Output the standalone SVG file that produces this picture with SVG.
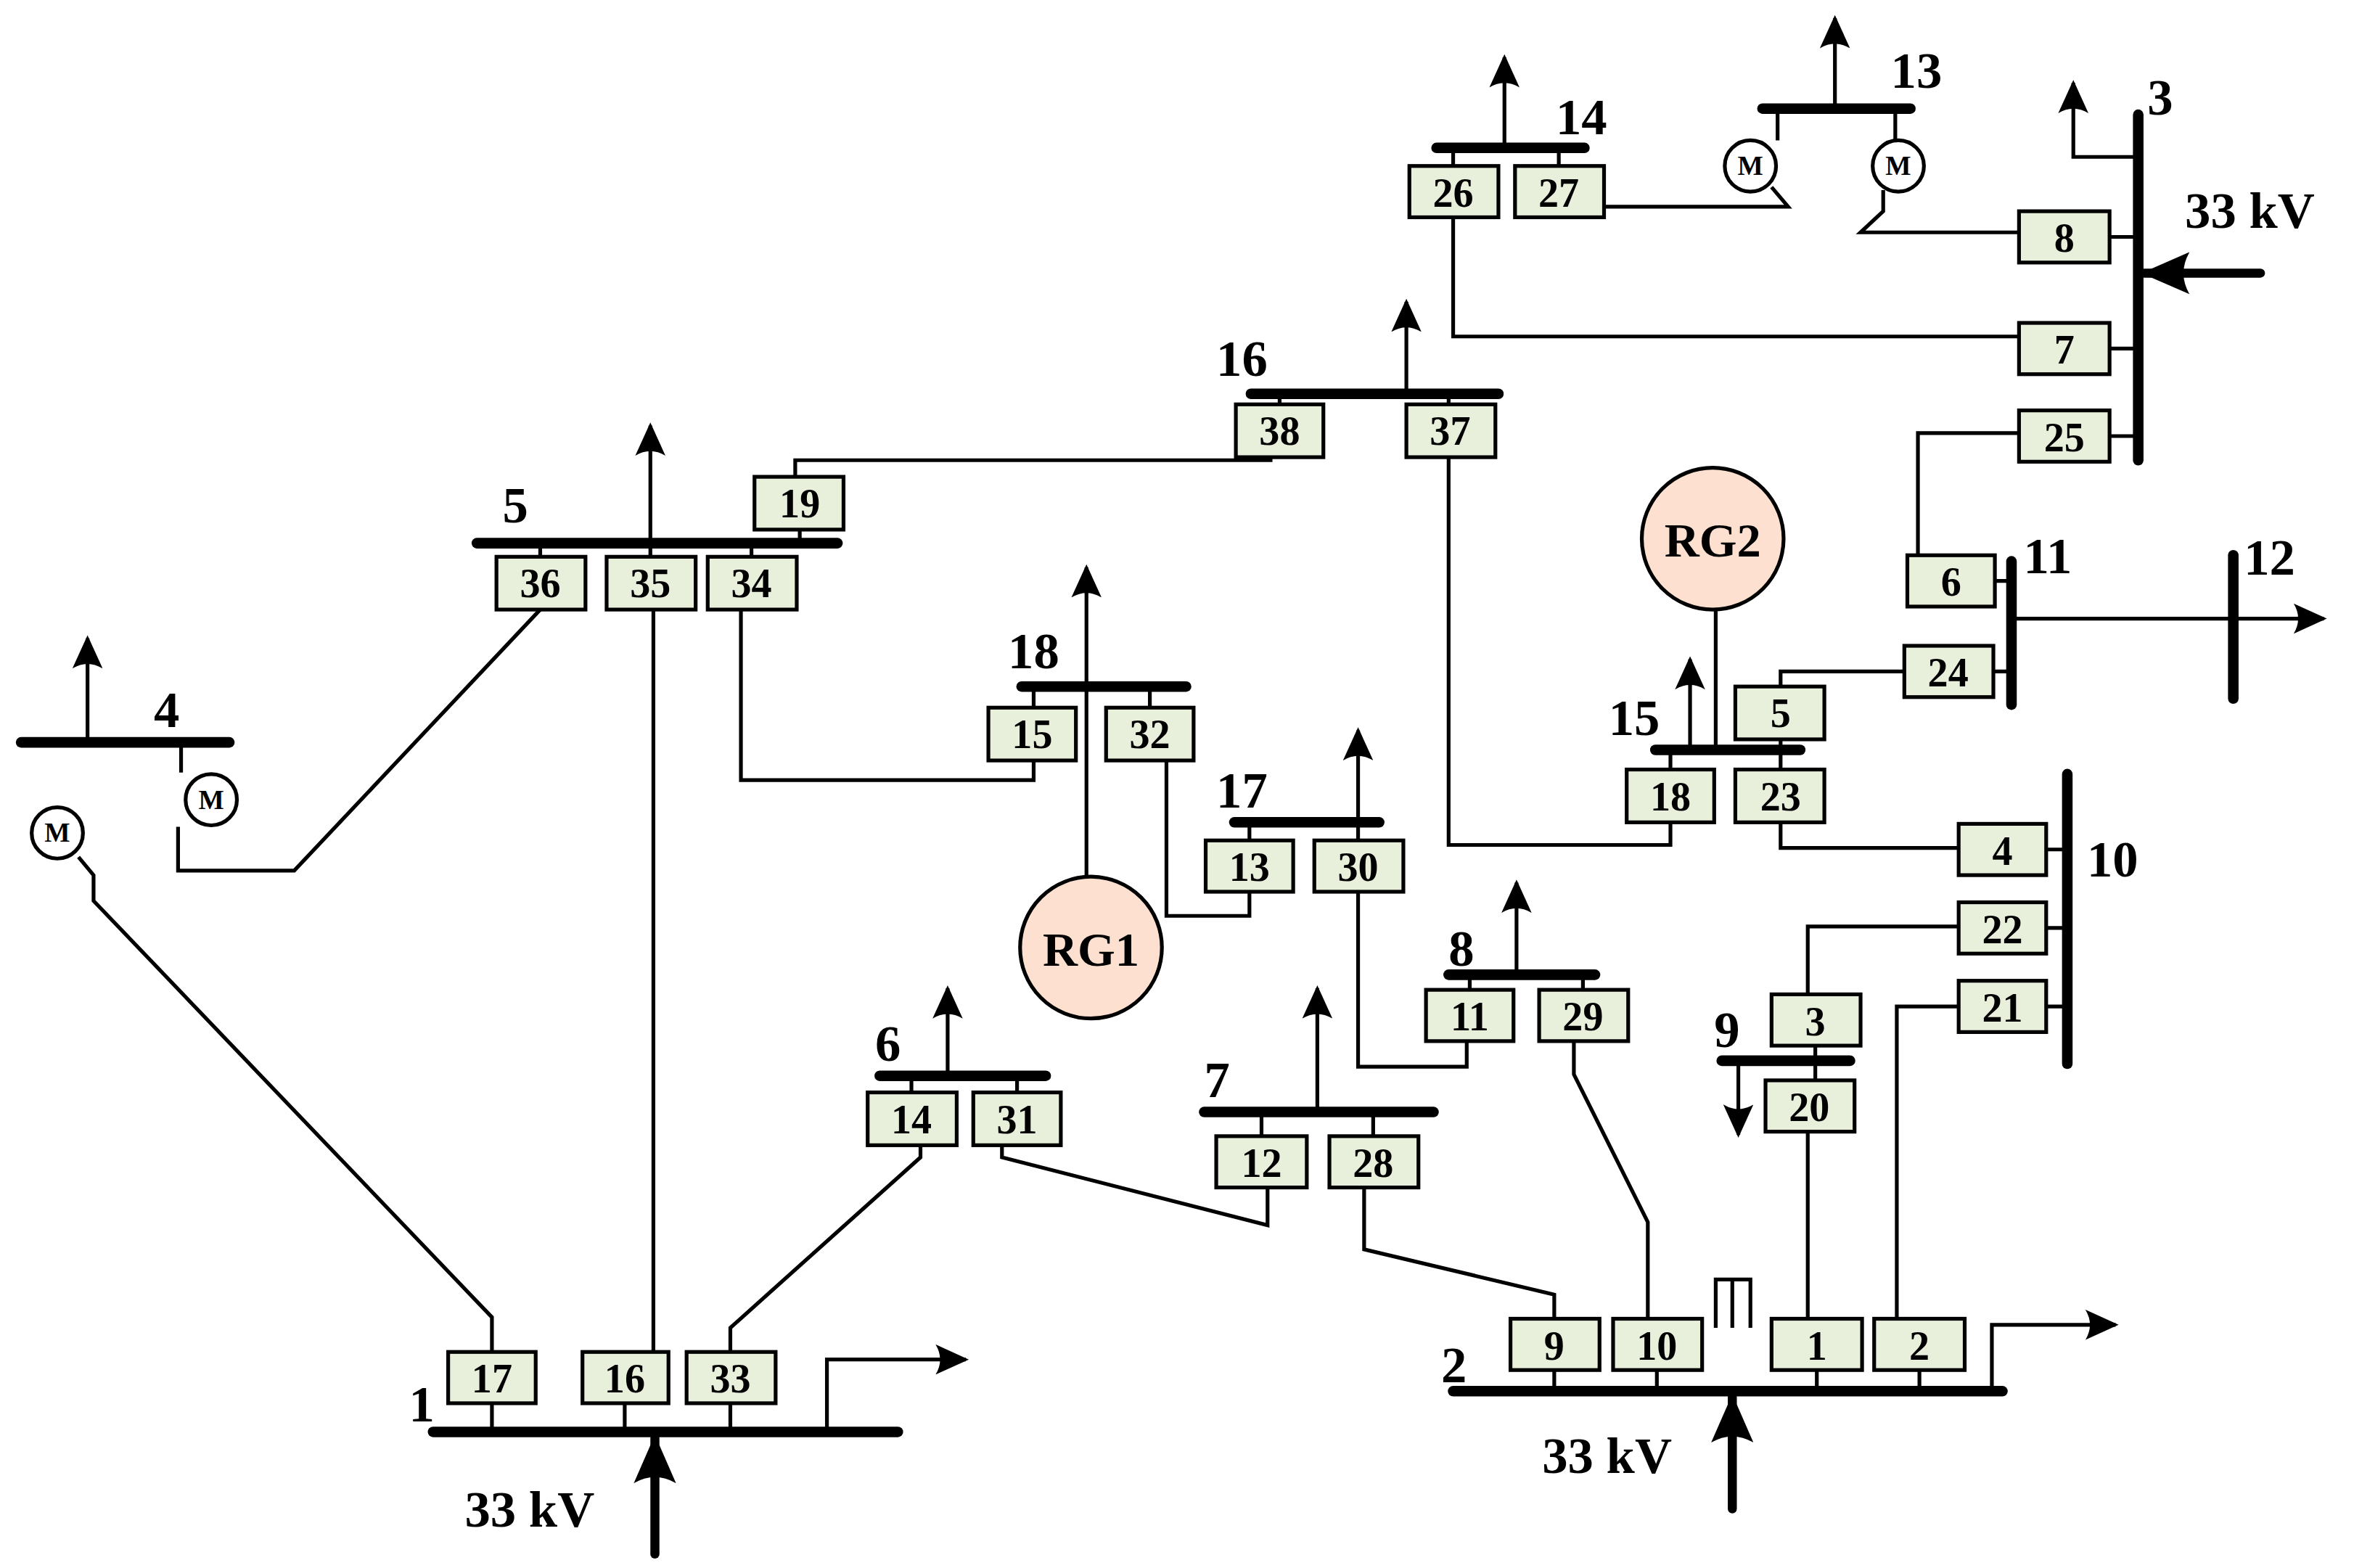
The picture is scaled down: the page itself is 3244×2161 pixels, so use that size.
<svg xmlns="http://www.w3.org/2000/svg" width="3244" height="2161" viewBox="0 0 3244 2161">
<defs>
<marker id="ah" markerUnits="userSpaceOnUse" markerWidth="24" markerHeight="20" refX="20" refY="10" orient="auto"><path d="M0,0 L22,10 L0,20 Q6,10 0,0 Z" fill="#000"/></marker>
<marker id="ahb" markerUnits="userSpaceOnUse" markerWidth="34" markerHeight="28" refX="30" refY="14" orient="auto"><path d="M0,0 L32,14 L0,28 Q8,14 0,0 Z" fill="#000"/></marker>
</defs>
<style>
.bus{stroke:#000;stroke-width:7;stroke-linecap:round;fill:none}
.ln{stroke:#000;stroke-width:2.5;fill:none}
.ld{stroke:#000;stroke-width:2.5;fill:none;marker-end:url(#ah)}
.src{stroke:#000;stroke-width:6;fill:none;stroke-linecap:round;marker-end:url(#ahb)}
.bx{fill:#e8f0dc;stroke:#000;stroke-width:2.5}
.bt{font-family:"Liberation Serif",serif;font-weight:bold;font-size:27px;text-anchor:middle}
.lb{font-family:"Liberation Serif",serif;font-weight:bold;font-size:34px}
.m{fill:#fff;stroke:#000;stroke-width:2.5}
.mt{font-family:"Liberation Serif",serif;font-weight:bold;font-size:18px;text-anchor:middle}
.rg{fill:#fde0d0;stroke:#000;stroke-width:2.5}
.rt{font-family:"Liberation Serif",serif;font-weight:bold;font-size:32px;text-anchor:middle}
</style>
<rect width="3244" height="2161" fill="#fff"/>
<g transform="scale(2.0795)">
<g id="connectors">
<path class="ln" d="M326,896 V873 L62,597 V580 L52,568"/>
<path class="ln" d="M433,896 V404"/>
<path class="ln" d="M484,896 V880 L610,767 V759"/>
<path class="ln" d="M527,316 V305 H842 V302"/>
<path class="ln" d="M358,404 L195,577 H118 V548"/>
<path class="ln" d="M491,404 V517 H685 V504"/>
<path class="ln" d="M960,303 V560 H1107 V545"/>
<path class="ln" d="M773,504 V607 H828 V591"/>
<path class="ln" d="M900,591 V707 H972 V690"/>
<path class="ln" d="M1043,690 V712 L1092,810 V874"/>
<path class="ln" d="M664,759 V767 L840,812 V787"/>
<path class="ln" d="M904,787 V828 L1030,858 V874"/>
<path class="ln" d="M1198,874 V750"/>
<path class="ln" d="M1257,874 V667 H1298"/>
<path class="ln" d="M1198,659 V614 H1298"/>
<path class="ln" d="M1298,562 H1180 V545"/>
<path class="ln" d="M1180,455 V445 H1262"/>
<path class="ln" d="M1271,368 V287 H1338"/>
<path class="ln" d="M1338,223 H963 V144"/>
<path class="ln" d="M1338,154 H1233 L1248,140 V126"/>
<path class="ln" d="M1063,137 H1185 L1174,124"/>
<path class="ln" d="M720,455 V582"/>
<path class="ln" d="M1137,404 V497"/>
</g>
<g id="bus1"><line class="bus" x1="287" y1="949" x2="595" y2="949"/><text class="lb" x="271" y="942">1</text>
<path class="ln" d="M326,930 V949 M414,930 V949 M484,930 V949"/>
<path class="ld" d="M548,949 V901 H640"/>
<line class="src" x1="434" y1="1030" x2="434" y2="953"/><text class="lb" x="308" y="1012">33 kV</text>
<rect class="bx" x="297" y="896" width="58" height="34"/><text class="bt" x="326" y="923">17</text>
<rect class="bx" x="386" y="896" width="57" height="34"/><text class="bt" x="414" y="923">16</text>
<rect class="bx" x="455" y="896" width="59" height="34"/><text class="bt" x="484" y="923">33</text></g>
<g id="bus4"><line class="bus" x1="14" y1="492" x2="152" y2="492"/><text class="lb" x="102" y="482">4</text>
<path class="ld" d="M58,492 V423"/><path class="ln" d="M120,492 V512"/>
<circle class="m" cx="38" cy="552" r="17"/><text class="mt" x="38" y="558">M</text>
<circle class="m" cx="140" cy="530" r="17"/><text class="mt" x="140" y="536">M</text></g>
<g id="bus5"><line class="bus" x1="316" y1="360" x2="555" y2="360"/><text class="lb" x="333" y="346">5</text>
<path class="ld" d="M431,360 V282"/><path class="ln" d="M358,360 V369 M431,360 V369 M498,360 V369 M530,351 V360"/>
<rect class="bx" x="329" y="369" width="59" height="35"/><text class="bt" x="358" y="396">36</text>
<rect class="bx" x="402" y="369" width="59" height="35"/><text class="bt" x="431" y="396">35</text>
<rect class="bx" x="469" y="369" width="59" height="35"/><text class="bt" x="498" y="396">34</text>
<rect class="bx" x="500" y="316" width="59" height="35"/><text class="bt" x="530" y="343">19</text></g>
<g id="bus16"><line class="bus" x1="829" y1="261" x2="993" y2="261"/><text class="lb" x="806" y="249">16</text>
<path class="ld" d="M932,261 V200"/><path class="ln" d="M848,261 V268 M960,261 V268"/>
<rect class="bx" x="819" y="268" width="58" height="35"/><text class="bt" x="848" y="295">38</text>
<rect class="bx" x="932" y="268" width="59" height="35"/><text class="bt" x="961" y="295">37</text></g>
<g id="bus18"><line class="bus" x1="677" y1="455" x2="786" y2="455"/><text class="lb" x="668" y="443">18</text>
<path class="ld" d="M720,455 V376"/><path class="ln" d="M685,455 V469 M762,455 V469"/>
<rect class="bx" x="655" y="469" width="58" height="35"/><text class="bt" x="684" y="496">15</text>
<rect class="bx" x="733" y="469" width="58" height="35"/><text class="bt" x="762" y="496">32</text></g>
<g id="RG1"><circle class="rg" cx="723" cy="628" r="47"/><text class="rt" x="723" y="640">RG1</text></g>
<g id="bus17"><line class="bus" x1="818" y1="545" x2="914" y2="545"/><text class="lb" x="806" y="535">17</text>
<path class="ld" d="M900,545 V484"/><path class="ln" d="M828,545 V557 M900,545 V557"/>
<rect class="bx" x="799" y="557" width="58" height="34"/><text class="bt" x="828" y="584">13</text>
<rect class="bx" x="871" y="557" width="59" height="34"/><text class="bt" x="900" y="584">30</text></g>
<g id="bus8"><line class="bus" x1="960" y1="646" x2="1057" y2="646"/><text class="lb" x="960" y="640">8</text>
<path class="ld" d="M1005,646 V585"/><path class="ln" d="M974,646 V656 M1049,646 V656"/>
<rect class="bx" x="945" y="656" width="58" height="34"/><text class="bt" x="974" y="683">11</text>
<rect class="bx" x="1020" y="656" width="59" height="34"/><text class="bt" x="1049" y="683">29</text></g>
<g id="bus6"><line class="bus" x1="583" y1="713" x2="693" y2="713"/><text class="lb" x="580" y="703">6</text>
<path class="ld" d="M628,713 V655"/><path class="ln" d="M604,713 V724 M674,713 V724"/>
<rect class="bx" x="575" y="724" width="59" height="35"/><text class="bt" x="604" y="751">14</text>
<rect class="bx" x="645" y="724" width="58" height="35"/><text class="bt" x="674" y="751">31</text></g>
<g id="bus7"><line class="bus" x1="798" y1="737" x2="950" y2="737"/><text class="lb" x="798" y="727">7</text>
<path class="ld" d="M873,737 V655"/><path class="ln" d="M836,737 V753 M910,737 V753"/>
<rect class="bx" x="806" y="753" width="60" height="34"/><text class="bt" x="836" y="780">12</text>
<rect class="bx" x="881" y="753" width="59" height="34"/><text class="bt" x="910" y="780">28</text></g>
<g id="bus2"><line class="bus" x1="963" y1="922" x2="1327" y2="922"/><text class="lb" x="955" y="916">2</text>
<path class="ln" d="M1030,908 V922 M1098,908 V922 M1204,908 V922 M1272,908 V922"/>
<path class="ld" d="M1320,922 V878 H1402"/>
<path class="ln" d="M1137,880 V848 H1160 V880 M1148,848 V880"/>
<line class="src" x1="1148" y1="1000" x2="1148" y2="926"/><text class="lb" x="1022" y="976">33 kV</text>
<rect class="bx" x="1001" y="874" width="59" height="34"/><text class="bt" x="1030" y="901">9</text>
<rect class="bx" x="1069" y="874" width="59" height="34"/><text class="bt" x="1098" y="901">10</text>
<rect class="bx" x="1174" y="874" width="60" height="34"/><text class="bt" x="1204" y="901">1</text>
<rect class="bx" x="1242" y="874" width="60" height="34"/><text class="bt" x="1272" y="901">2</text></g>
<g id="bus9"><line class="bus" x1="1141" y1="703" x2="1226" y2="703"/><text class="lb" x="1136" y="694">9</text>
<path class="ld" d="M1152,703 V752"/><path class="ln" d="M1203,693 V716"/>
<rect class="bx" x="1174" y="659" width="59" height="34"/><text class="bt" x="1203" y="686">3</text>
<rect class="bx" x="1170" y="716" width="59" height="34"/><text class="bt" x="1199" y="743">20</text></g>
<g id="bus10"><line class="bus" x1="1370" y1="513" x2="1370" y2="705"/><text class="lb" x="1383" y="581">10</text>
<path class="ln" d="M1356,563 H1370 M1356,615 H1370 M1356,667 H1370"/>
<rect class="bx" x="1298" y="546" width="58" height="34"/><text class="bt" x="1327" y="573">4</text>
<rect class="bx" x="1298" y="598" width="58" height="34"/><text class="bt" x="1327" y="625">22</text>
<rect class="bx" x="1298" y="650" width="58" height="34"/><text class="bt" x="1327" y="677">21</text></g>
<g id="bus15"><line class="bus" x1="1097" y1="497" x2="1193" y2="497"/><text class="lb" x="1066" y="487">15</text>
<path class="ld" d="M1120,497 V437"/><path class="ln" d="M1107,497 V510 M1180,490 V510"/>
<rect class="bx" x="1078" y="510" width="58" height="35"/><text class="bt" x="1107" y="537">18</text>
<rect class="bx" x="1150" y="510" width="59" height="35"/><text class="bt" x="1180" y="537">23</text>
<rect class="bx" x="1150" y="455" width="59" height="35"/><text class="bt" x="1180" y="482">5</text></g>
<g id="RG2"><circle class="rg" cx="1135" cy="357" r="47"/><text class="rt" x="1135" y="369">RG2</text></g>
<g id="bus11"><line class="bus" x1="1333" y1="372" x2="1333" y2="467"/><text class="lb" x="1341" y="380">11</text>
<path class="ln" d="M1322,385 H1333 M1321,445 H1333"/>
<rect class="bx" x="1264" y="368" width="58" height="34"/><text class="bt" x="1293" y="395">6</text>
<rect class="bx" x="1262" y="428" width="59" height="34"/><text class="bt" x="1291" y="455">24</text></g>
<g id="bus12"><line class="bus" x1="1480" y1="368" x2="1480" y2="463"/><text class="lb" x="1487" y="381">12</text>
<path class="ln" d="M1333,410 H1480"/><path class="ld" d="M1480,410 H1540"/></g>
<g id="bus3"><line class="bus" x1="1417" y1="76" x2="1417" y2="305"/><text class="lb" x="1423" y="76">3</text>
<path class="ld" d="M1417,104 H1374 V55"/>
<path class="ln" d="M1398,157 H1417 M1398,231 H1417 M1398,289 H1417"/>
<line class="src" x1="1498" y1="181" x2="1421" y2="181"/><text class="lb" x="1448" y="151">33 kV</text>
<rect class="bx" x="1338" y="140" width="60" height="34"/><text class="bt" x="1368" y="167">8</text>
<rect class="bx" x="1338" y="214" width="60" height="34"/><text class="bt" x="1368" y="241">7</text>
<rect class="bx" x="1338" y="272" width="60" height="34"/><text class="bt" x="1368" y="299">25</text></g>
<g id="bus14"><line class="bus" x1="952" y1="98" x2="1050" y2="98"/><text class="lb" x="1031" y="89">14</text>
<path class="ld" d="M997,98 V38"/><path class="ln" d="M963,98 V110 M1033,98 V110"/>
<rect class="bx" x="934" y="110" width="59" height="34"/><text class="bt" x="963" y="137">26</text>
<rect class="bx" x="1004" y="110" width="59" height="34"/><text class="bt" x="1033" y="137">27</text></g>
<g id="bus13"><line class="bus" x1="1168" y1="72" x2="1266" y2="72"/><text class="lb" x="1253" y="58">13</text>
<path class="ld" d="M1216,72 V12"/><path class="ln" d="M1178,72 V93 M1256,72 V93"/>
<circle class="m" cx="1160" cy="110" r="17"/><text class="mt" x="1160" y="116">M</text>
<circle class="m" cx="1258" cy="110" r="17"/><text class="mt" x="1258" y="116">M</text></g>
</g>
</svg>
